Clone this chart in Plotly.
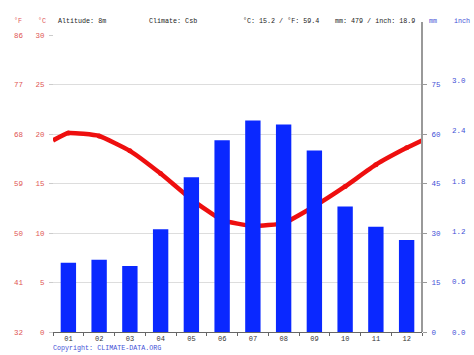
import plotly.graph_objects as go

months = ["01", "02", "03", "04", "05", "06", "07", "08", "09", "10", "11", "12"]
temp_c = [20.1, 19.8, 18.3, 16.0, 13.4, 11.3, 10.7, 11.0, 12.7, 14.7, 16.9, 18.6]
precip_mm = [21.0, 21.9, 20.0, 31.1, 46.9, 58.1, 64.1, 62.9, 55.0, 38.0, 31.9, 27.9]

c_ticks = [0, 5, 10, 15, 20, 25, 30]
f_ticks = [32, 41, 50, 59, 68, 77, 86]
mm_ticks = [0, 15, 30, 45, 60, 75]
inch_ticks = [0.0, 0.6, 1.2, 1.8, 2.4, 3.0]

W, H = 474, 355
L, R, T, B = 53, 422, 35, 332
x0 = L / W
x1 = R / W
y0 = 1 - B / H
y1 = 1 - T / H

FONT = "Liberation Mono"
RED = "#e05555"
BLUE = "#3f4fd6"
BAR = "#0a28ff"
LINE = "#ee0f0f"

xn = list(range(1, 13))
edge = (temp_c[0] + temp_c[-1]) / 2
line_x = [0.5] + xn + [12.5]
line_y = [edge] + temp_c + [edge]

fig = go.Figure()
fig.add_trace(go.Bar(x=xn, y=precip_mm, width=0.5, marker=dict(color=BAR, line=dict(width=0)),
                     yaxis="y2", hoverinfo="skip"))
fig.add_trace(go.Scatter(x=line_x, y=line_y, mode="lines", line=dict(color=LINE, width=4.5, shape="spline", smoothing=0.4),
                         yaxis="y", hoverinfo="skip"))
fig.add_trace(go.Scatter(x=xn, y=temp_c, mode="markers", marker=dict(color=LINE, size=5),
                         yaxis="y", hoverinfo="skip"))
# invisible companions so the °F and inch axes are drawn
fig.add_trace(go.Scatter(x=[1], y=[32], mode="markers", marker=dict(opacity=0), yaxis="y3", hoverinfo="skip"))
fig.add_trace(go.Scatter(x=[1], y=[0], mode="markers", marker=dict(opacity=0), yaxis="y4", hoverinfo="skip"))

TS = 7.5
tickfont_red = dict(family=FONT, size=TS, color=RED)
tickfont_blue = dict(family=FONT, size=TS, color=BLUE)

fig.update_layout(
    width=W, height=H,
    margin=dict(l=0, r=0, t=0, b=0, autoexpand=False),
    paper_bgcolor="white", plot_bgcolor="white",
    showlegend=False,
    xaxis=dict(domain=[x0, x1], range=[0.5, 12.5], tickvals=xn, ticktext=months,
               ticks="", showgrid=False, zeroline=False, showline=True, linecolor="#666666", linewidth=1,
               tickfont=dict(family=FONT, size=7, color="#333333"), anchor="y", automargin=False,
               minor=dict(tickvals=[i + 0.5 for i in range(13)], ticks="outside", ticklen=3, tickcolor="#666666")),
    yaxis=dict(domain=[y0, y1], range=[0, 30], tickvals=c_ticks, ticks="outside", ticklen=4, tickcolor="#cccccc",
               showgrid=True, gridcolor="#dddddd", gridwidth=1, zeroline=False, showline=False,
               tickfont=tickfont_red, anchor="free", position=x0, automargin=False, ticklabelstandoff=3),
    yaxis3=dict(domain=[y0, y1], range=[32, 86], tickvals=f_ticks, ticks="", showgrid=False, zeroline=False,
                showline=False, tickfont=tickfont_red, anchor="free", position=23 / W, overlaying="y", side="left",
                automargin=False),
    yaxis2=dict(domain=[y0, y1], range=[0, 90], tickvals=mm_ticks, ticks="outside", ticklen=4, tickcolor="#999999",
                showgrid=False, zeroline=False, showline=True, linecolor="#999999", linewidth=2,
                tickfont=tickfont_blue, anchor="free", position=x1, overlaying="y", side="right",
                automargin=False, ticklabelstandoff=3),
    yaxis4=dict(domain=[y0, y1], range=[0, 90 / 25.4], tickvals=inch_ticks, tickformat=".1f", ticks="",
                showgrid=False, zeroline=False, showline=False, tickfont=tickfont_blue,
                anchor="free", position=451 / W, overlaying="y", side="right", automargin=False),
)

fig.add_shape(type="line", xref="paper", yref="paper", x0=x1, x1=x1, y0=y1, y1=1 - 22 / H,
              line=dict(color="#999999", width=2))

hy = 1 - 20.5 / H
HS = 6.7
def ann(x, text, color="#222222", y=hy, anchor="left", size=HS):
    fig.add_annotation(x=x / W, y=y, xref="paper", yref="paper", text=text, showarrow=False,
                       xanchor=anchor, yanchor="middle", borderpad=0,
                       font=dict(family=FONT, size=size, color=color))

ann(13, "°F", RED)
ann(37, "°C", RED)
ann(57, "Altitude: 8m")
ann(148, "Climate: Csb")
ann(242, "°C: 15.2 / °F: 59.4")
ann(334, "mm: 479 / inch: 18.9")
ann(428, "mm", BLUE)
ann(453, "inch", BLUE)
ann(52, "Copyright: CLIMATE-DATA.ORG", BLUE, y=1 - 348 / H)

fig.write_html("out.html", config={"displayModeBar": False},
               post_script="document.body.style.margin='0';document.body.style.overflow='hidden';")
